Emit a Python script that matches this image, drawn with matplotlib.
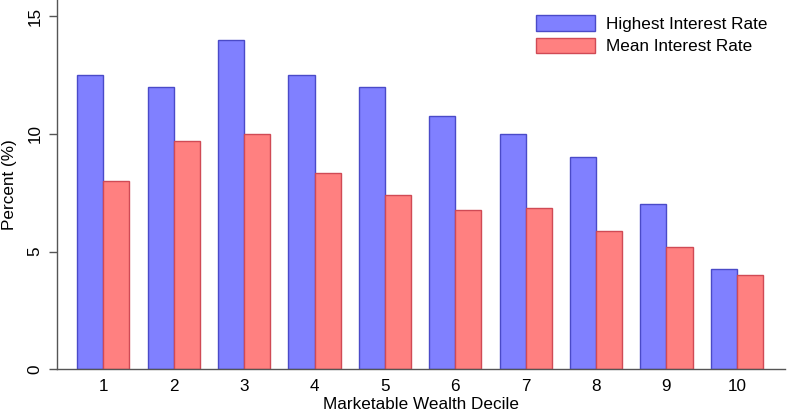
import matplotlib.pyplot as plt
import numpy as np

plt.rcParams['font.family'] = ['Liberation Sans', 'DejaVu Sans']

# Data
deciles = ['1', '2', '3', '4', '5', '6', '7', '8', '9', '10']
highest_rate = [12.5, 12.0, 14.0, 12.5, 12.0, 10.75, 10.0, 9.0, 7.0, 4.25]
mean_rate = [8.0, 9.7, 10.0, 8.33, 7.4, 6.75, 6.83, 5.88, 5.2, 4.0]

x = np.arange(1, len(deciles) + 1)
w = 0.37
fs = 12.3

fig = plt.figure(figsize=(7.87, 4.11), dpi=100)
ax = fig.add_axes([0.072, 0.1015, 0.926, 0.8985])

ax.bar(x - w / 2, highest_rate, w, color='#8080ff', edgecolor='#4a4ac8',
       linewidth=1.0, label='Highest Interest Rate')
ax.bar(x + w / 2, mean_rate, w, color='#ff8080', edgecolor='#d04a55',
       linewidth=1.0, label='Mean Interest Rate')

ax.set_xlim(0.337, 10.69)
ax.set_ylim(0, 15.68)
ax.set_xticks(x)
ax.set_xticklabels(deciles, fontsize=fs)
ax.set_yticks([0, 5, 10, 15])
ax.set_yticklabels(['0', '5', '10', '15'], fontsize=fs, rotation=90, va='center')
ax.tick_params(axis='x', length=0, pad=7)
ax.tick_params(axis='y', length=6, width=1, color='#555555', pad=4)

for s in ['top', 'right']:
    ax.spines[s].set_visible(False)
for s in ['left', 'bottom']:
    ax.spines[s].set_color('#555555')
    ax.spines[s].set_linewidth(1)

ax.set_xlabel('Marketable Wealth Decile', fontsize=fs, labelpad=2)
ax.set_ylabel('Percent (%)', fontsize=fs, labelpad=8)

ax.legend(loc='upper right', bbox_to_anchor=(0.996, 1.0), frameon=False,
          fontsize=fs, handlelength=3.5, handleheight=1.0,
          handletextpad=0.6, labelspacing=0.35)

fig.savefig('out.png', dpi=100)
